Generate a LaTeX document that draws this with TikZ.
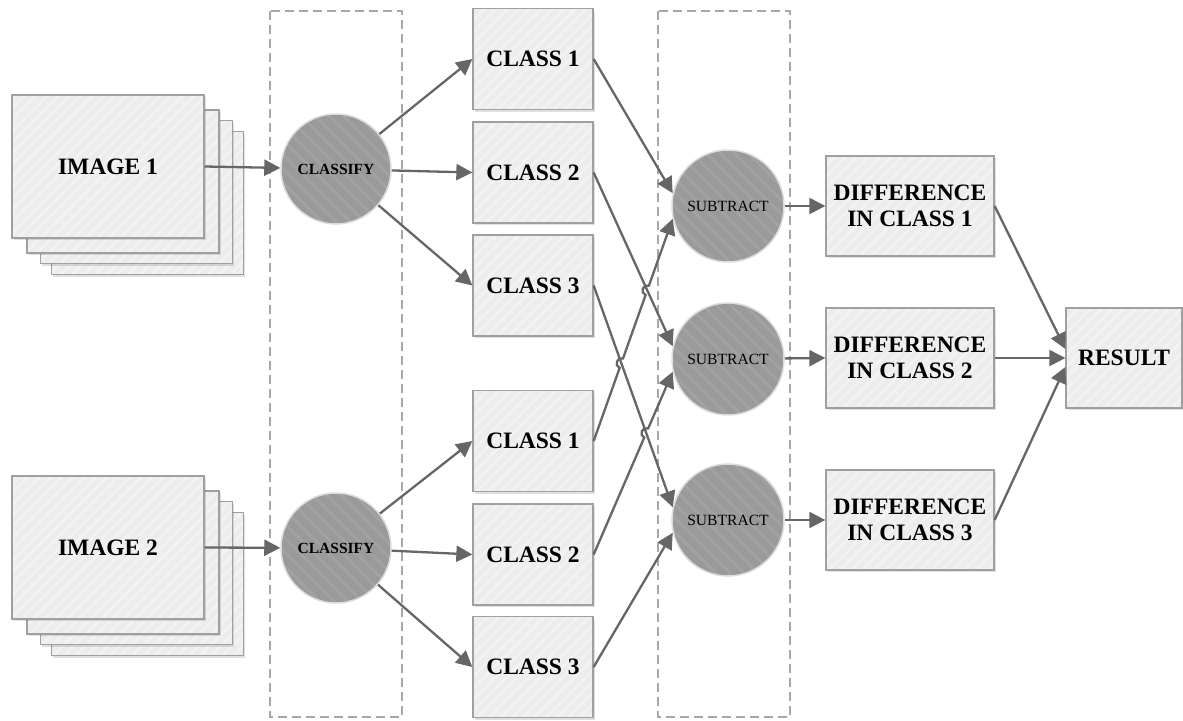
\documentclass[tikz,border=0pt]{standalone}
\usepackage{fontspec}
\setmainfont{Liberation Serif}
\usetikzlibrary{arrows.meta,calc,intersections,shadows,patterns.meta}
\definecolor{boxfill}{HTML}{EDEDED}
\definecolor{boxline}{HTML}{A0A0A0}
\definecolor{boxstripe}{HTML}{F3F3F3}
\definecolor{circfill}{HTML}{9A9A9A}
\definecolor{circstripe}{HTML}{A2A2A2}
\definecolor{circline}{HTML}{DCDCDC}
\definecolor{arrowc}{HTML}{666666}
\definecolor{dashc}{HTML}{A8A8A8}
\begin{document}
\begin{tikzpicture}[x=1pt,y=-1pt,
  base/.style={fill=boxfill, inner sep=0pt, outer sep=0.65pt, align=center,
    drop shadow={shadow xshift=1.5pt,shadow yshift=-2pt,fill=black,opacity=0.12},
    postaction={pattern={Lines[angle=45,distance=8pt,line width=2.5pt]},pattern color=boxstripe},
    postaction={draw=boxline, line width=1.3pt},
    font=\fontsize{23.5pt}{26.5pt}\selectfont\bfseries},
  sheet/.style={base, minimum width=192pt, minimum height=143pt},
  classbox/.style={base, minimum width=120pt, minimum height=101pt},
  diffbox/.style={base, minimum width=168pt, minimum height=100pt},
  resbox/.style={base, minimum width=116pt, minimum height=100pt},
  disc/.style={circle, fill=circfill, inner sep=0pt, outer sep=0.75pt, minimum size=#1,
    postaction={pattern={Lines[angle=-45,distance=10pt,line width=3pt]},pattern color=circstripe},
    postaction={draw=circline, line width=1.5pt}},
  classify/.style={disc=110pt, font=\fontsize{15.5pt}{17pt}\selectfont\bfseries},
  subtract/.style={disc=112pt, font=\fontsize{15.6pt}{17pt}\selectfont},
  conn/.style={draw=arrowc, line width=2.3pt, -{Triangle[length=16pt,width=16pt]}},
  dashbox/.style={draw=dashc, line width=1.4pt, dash pattern=on 9pt off 5pt},
  hop/.style={bend left=90, looseness=1.6}
]
\useasboundingbox (0,0) rectangle (1183,720);
% dashed groups
\draw[dashbox] (270,11) rectangle (402,717);
\draw[dashbox] (658,11) rectangle (790,717);
% image stacks
\node[sheet] (i1s3) at (147.5,203) {};
\node[sheet] (i1s2) at (136.5,192) {};
\node[sheet] (i1s1) at (123,181.5) {};
\node[sheet] (img1) at (108,166.5) {IMAGE 1};
\node[sheet] (i2s3) at (147.5,584) {};
\node[sheet] (i2s2) at (136.5,573) {};
\node[sheet] (i2s1) at (123,562.5) {};
\node[sheet] (img2) at (108,547.5) {IMAGE 2};
% classify
\node[classify] (c1) at (336,169) {CLASSIFY};
\node[classify] (c2) at (336,548) {CLASSIFY};
% class boxes
\node[classbox] (t1) at (533,59) {CLASS 1};
\node[classbox] (t2) at (533,172.5) {CLASS 2};
\node[classbox] (t3) at (533,285.5) {CLASS 3};
\node[classbox] (b1) at (533,441) {CLASS 1};
\node[classbox] (b2) at (533,554.5) {CLASS 2};
\node[classbox] (b3) at (533,667) {CLASS 3};
% subtract
\node[subtract] (s1) at (728,206) {SUBTRACT};
\node[subtract] (s2) at (728,359) {SUBTRACT};
\node[subtract] (s3) at (728,520) {SUBTRACT};
% differences
\node[diffbox] (d1) at (910,206) {DIFFERENCE\\IN CLASS 1};
\node[diffbox] (d2) at (910,358) {DIFFERENCE\\IN CLASS 2};
\node[diffbox] (d3) at (910,520) {DIFFERENCE\\IN CLASS 3};
\node[resbox] (res) at (1124,358) {RESULT};
% connectors
\draw[conn] (img1.east) -- (c1);
\draw[conn] (img2.east) -- (c2);
\draw[conn] (c1) -- (t1.west);
\draw[conn] (c1) -- (t2.west);
\draw[conn] (c1) -- (t3.west);
\draw[conn] (c2) -- (b1.west);
\draw[conn] (c2) -- (b2.west);
\draw[conn] (c2) -- (b3.west);
\draw[conn] (t1.east) -- (s1.167);
\draw[conn] (t2.east) -- (s2.167);
\draw[conn] (t3.east) -- (s3.167);
\draw[conn] (b3.east) -- (s3.193);
\path[name path=Lb] (t2.east) -- (s2.167);
\path[name path=Lc] (t3.east) -- (s3.167);
\path[name path=Ld] (b1.east) -- (s1.193);
\path[name path=Le] (b2.east) -- (s2.193);
\path[name intersections={of=Lb and Ld,by=X1}];
\path[name intersections={of=Lc and Ld,by=X2}];
\path[name intersections={of=Lc and Le,by=X3}];
\draw[conn] (b1.east) -- ($(X2)!5pt!(b1.east)$) to[hop] ($(X2)!5pt!(s1.193)$)
  -- ($(X1)!5pt!(b1.east)$) to[hop] ($(X1)!5pt!(s1.193)$) -- (s1.193);
\draw[conn] (b2.east) -- ($(X3)!5pt!(b2.east)$) to[hop] ($(X3)!5pt!(s2.193)$) -- (s2.193);
\draw[conn] (s1) -- (d1.west);
\draw[conn] (s2) -- (d2.west);
\draw[conn] (s3) -- (d3.west);
\draw[conn] (d1.east) -- ([yshift=9pt]res.west);
\draw[conn] (d2.east) -- (res.west);
\draw[conn] (d3.east) -- ([yshift=-9pt]res.west);
\end{tikzpicture}
\end{document}
